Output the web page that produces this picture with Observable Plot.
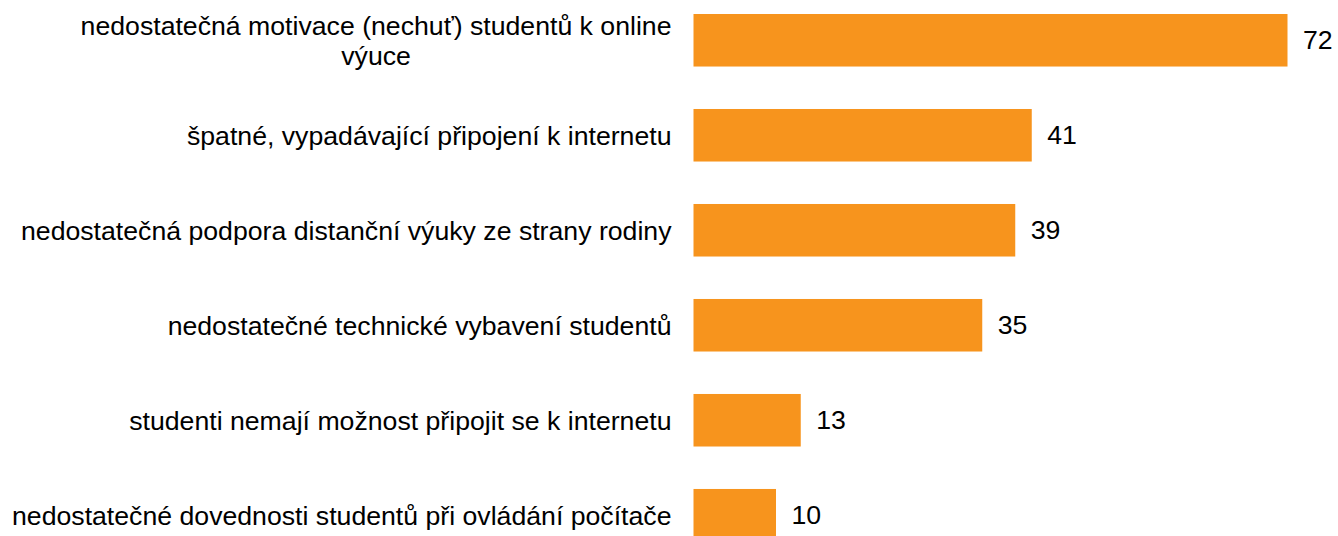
<!DOCTYPE html>
<html>
<head>
<meta charset="utf-8">
<script src="https://cdn.jsdelivr.net/npm/d3@7"></script>
<script src="https://cdn.jsdelivr.net/npm/@observablehq/plot@0.6"></script>
<style>
  html, body { margin: 0; padding: 0; background: #fff; overflow: hidden; }
  #chart svg { display: block; overflow: visible; }
</style>
</head>
<body>
<div id="chart"></div>
<script>
const categories = [
  "nedostatečná motivace (nechuť) studentů k online\nvýuce",
  "špatné, vypadávající připojení k internetu",
  "nedostatečná podpora distanční výuky ze strany rodiny",
  "nedostatečné technické vybavení studentů",
  "studenti nemají možnost připojit se k internetu",
  "nedostatečné dovednosti studentů při ovládání počítače"
];
const values = [72, 41, 39, 35, 13, 10];

const data = categories.map((c, i) => ({category: c, value: values[i]}));

const FONT = '"Liberation Sans", Arial, sans-serif';
const FS = 26.67;

const chart = Plot.plot({
  width: 1338,
  height: 536,
  marginLeft: 693.5,
  marginRight: 50.5,
  marginTop: 0,
  marginBottom: 0,
  style: {fontFamily: FONT, fontSize: FS + "px", color: "#000", background: "#fff"},
  x: {domain: [0, 72], axis: null},
  y: {domain: categories, range: [14, 541.5], paddingInner: 0.447, paddingOuter: 0, round: false, axis: null},
  marks: [
    Plot.barX(data, {x: "value", y: "category", fill: "#F7941D"}),
    Plot.text(data, {
      x: 0, y: "category", text: "category",
      textAnchor: "end", dx: -22.5, fill: "#000",
      fontSize: FS, lineHeight: 1.13, lineAnchor: "middle"
    }),
    Plot.text(data, {
      x: "value", y: "category", text: d => String(d.value),
      textAnchor: "start", dx: 15, fill: "#000", fontSize: FS
    })
  ]
});

document.getElementById("chart").appendChild(chart);

// Center the wrapped lines of multi-line category labels under their first line
chart.querySelectorAll("text").forEach(t => {
  const spans = t.querySelectorAll("tspan");
  if (spans.length > 1) {
    const w = Math.max(...Array.from(spans).map(s => s.getComputedTextLength()));
    t.setAttribute("text-anchor", "middle");
    spans.forEach(s => s.setAttribute("x", String(-w / 2)));
  }
});
</script>
</body>
</html>
